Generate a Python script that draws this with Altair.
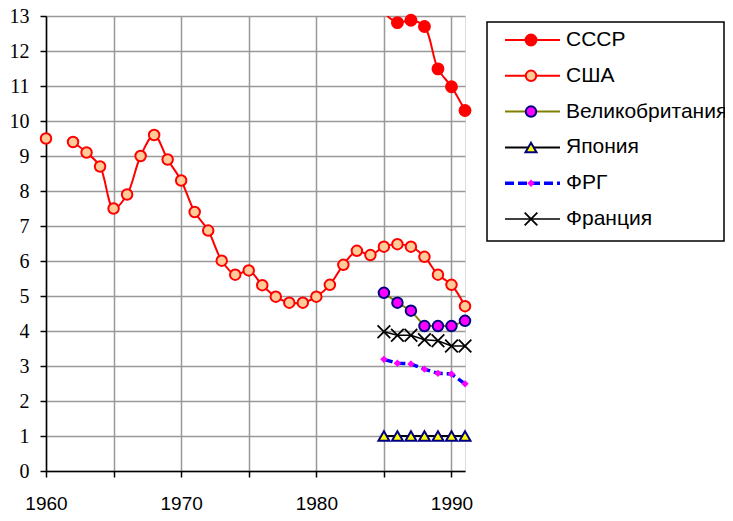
import altair as alt
import pandas as pd

# ---------------- data ----------------
years_all = list(range(1960, 1992))
usa = [9.5, None, 9.4, 9.1, 8.7, 7.5, 7.9, 9.0, 9.6, 8.9, 8.3, 7.4, 6.87, 6.01, 5.61, 5.73,
       5.31, 4.98, 4.81, 4.81, 4.98, 5.32, 5.89, 6.29, 6.17, 6.41, 6.48, 6.41, 6.12, 5.61,
       5.32, 4.71]
years_late = [1985, 1986, 1987, 1988, 1989, 1990, 1991]
ussr = [13.1, 12.81, 12.88, 12.7, 11.49, 10.98, 10.3]
uk = [5.09, 4.81, 4.58, 4.14, 4.14, 4.14, 4.29]
japan = [1.0, 1.0, 1.0, 1.0, 1.0, 1.0, 1.0]
frg = [3.19, 3.08, 3.06, 2.91, 2.79, 2.77, 2.49]
france = [3.98, 3.88, 3.88, 3.75, 3.72, 3.57, 3.57]

series_names = ["СССР", "США", "Великобритания", "Япония", "ФРГ", "Франция"]
x_ticks = [1960, 1965, 1970, 1975, 1980, 1985, 1990]
y_ticks = [0, 1, 2, 3, 4, 5, 6, 7, 8, 9, 10, 11, 12, 13]

series_values = {
    "СССР": (years_late, ussr),
    "США": (years_all, usa),
    "Великобритания": (years_late, uk),
    "Япония": (years_late, japan),
    "ФРГ": (years_late, frg),
    "Франция": (years_late, france),
}

# ---------------- styles ----------------
X_PATH = "M-1,-1L1,1M-1,1L1,-1"
styles = {
    "СССР": dict(line="#FF0000", lw=2, interp="catmull-rom", shape="circle",
                fill="#FF0000", stroke="#FF0000", sw=1.5, size=130, clip=True),
    "США": dict(line="#FF0000", lw=2, interp="catmull-rom", shape="circle",
               fill="#FFCC99", stroke="#FF0000", sw=2, size=110),
    "Великобритания": dict(line="#808000", lw=2, interp="linear", shape="circle",
                          fill="#FF00FF", stroke="#000080", sw=2, size=110),
    "Япония": dict(line="#000000", lw=2, interp="linear", shape="triangle-up",
                  fill="#FFFF00", stroke="#000080", sw=2, size=120),
    "ФРГ": dict(line="#0000FF", lw=3.5, dash=[9, 4], interp="linear", shape="diamond",
               fill="#FF00FF", stroke="#FF00FF", sw=0, size=55),
    "Франция": dict(line="#000000", lw=1.5, interp="linear", shape=X_PATH,
                   fill=None, stroke="#000000", sw=1.8, size=160),
}

frames = {}
for name, (yrs, vals) in series_values.items():
    d = pd.DataFrame({"year": yrs, "value": vals}).dropna().reset_index(drop=True)
    d["seg"] = (d["year"].diff().fillna(1) > 1).cumsum()
    frames[name] = d

X_SCALE = alt.Scale(domain=[1960, 1991], nice=False, zero=False)
Y_SCALE = alt.Scale(domain=[0, 13], nice=False, zero=False)
GRID = "#999999"
SERIF = "Liberation Serif"
SANS = "Liberation Sans"

x_axis = alt.Axis(values=x_ticks, grid=True, gridColor=GRID, gridWidth=1.5,
                  labelExpr="datum.value % 10 == 0 ? toString(datum.value) : ''",
                  domainColor="black", domainWidth=1.5, tickColor="black", tickSize=6,
                  tickWidth=1.5, labelFont=SANS, labelFontSize=19,
                  labelColor="black", labelPadding=17, labelFlush=False,
                  labelOverlap=False, title=None)
y_axis = alt.Axis(values=y_ticks, grid=True, gridColor=GRID, gridWidth=1.5,
                  domainColor="black", domainWidth=1.5, tickColor="black", tickSize=6,
                  tickWidth=1.5, labelFont=SERIF, labelFontSize=20,
                  labelColor="black", labelPadding=11, labelOverlap=False, title=None)

LEG_Y = alt.Scale(type="point", domain=list(range(len(series_names))), range=[24, 203],
                  padding=0)

layers = []

# legend box
layers.append(
    alt.Chart(pd.DataFrame({"a": [0]})).mark_rect(fill="white", stroke="black", strokeWidth=1.5)
    .encode(x=alt.value(441), x2=alt.value(678), y=alt.value(6), y2=alt.value(225))
)

first = True
for name in series_names:
    st = styles[name]
    d = frames[name]
    yenc = alt.Y("value:Q", scale=Y_SCALE, axis=y_axis if first else None)
    first = False
    xenc = alt.X("year:Q", scale=X_SCALE, axis=x_axis)

    line_kw = dict(color=st["line"], strokeWidth=st["lw"], interpolate=st["interp"])
    if st.get("clip"):
        line_kw["clip"] = True
    if st.get("dash"):
        line_kw["strokeDash"] = st["dash"]
    layers.append(alt.Chart(d).mark_line(**line_kw).encode(x=xenc, y=yenc, detail="seg:N"))

    pt_kw = dict(shape=st["shape"], size=st["size"], stroke=st["stroke"],
                 strokeWidth=st["sw"], opacity=1)
    if st["fill"] is None:
        pt_kw["filled"] = False
    else:
        pt_kw["filled"] = True
        pt_kw["fill"] = st["fill"]
    pts = alt.Chart(d).transform_filter("datum.value <= 13").mark_point(**pt_kw).encode(
        x=xenc, y=alt.Y("value:Q", scale=Y_SCALE, axis=None))
    layers.append(pts)

    # legend entry
    ld = pd.DataFrame({"name": [name], "order": [series_names.index(name)]})
    ly = alt.Y("order:O", scale=LEG_Y, axis=None)
    rule_kw = dict(color=st["line"], strokeWidth=st["lw"])
    if st.get("dash"):
        rule_kw["strokeDash"] = st["dash"]
    layers.append(alt.Chart(ld).mark_rule(**rule_kw).encode(x=alt.value(459), x2=alt.value(514), y=ly))
    layers.append(alt.Chart(ld).mark_point(**pt_kw).encode(x=alt.value(485), y=ly))
    layers.append(alt.Chart(ld).mark_text(align="left", baseline="middle", font=SANS,
                                          fontSize=21, color="black")
                  .encode(x=alt.value(520), y=ly, text="name:N"))

chart = (
    alt.layer(*layers)
    .resolve_scale(y="independent")
    .properties(width=419, height=455,
                autosize=alt.AutoSizeParams(type="none"),
                padding={"left": 38, "top": 8, "right": 260, "bottom": 42})
    .configure_view(stroke=GRID, strokeWidth=1.5)
    .configure(background="white")
)

chart.save("out.html", embed_options={"renderer": "svg", "actions": False})
